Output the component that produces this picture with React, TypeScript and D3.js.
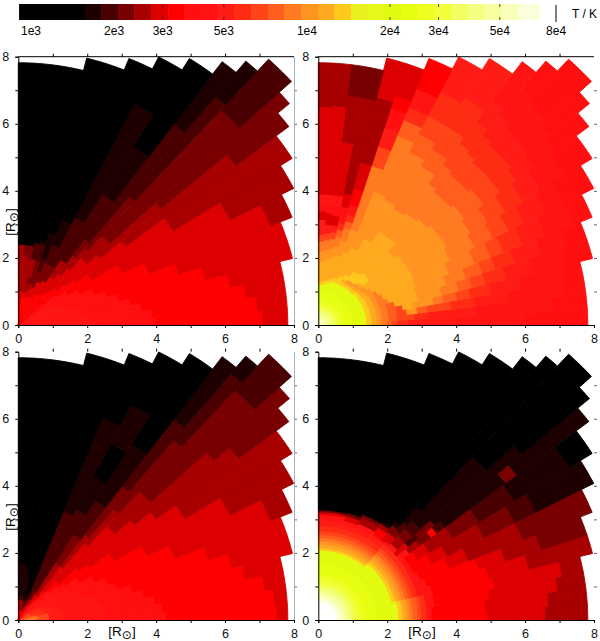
import * as React from 'react'
import * as d3 from 'd3'

// colour bar
const LEVEL_COLORS = ['#000000', '#1e0000', '#4a0000', '#780000', '#a80000', '#dd0000', '#ff0000', '#ff0f0f', '#ff1414', '#ff1c14', '#ff2c14', '#ff4418', '#ff5e1c', '#ff7a20', '#ff9420', '#ffaa1e', '#ffc81c', '#e8f01e', '#e4f81a', '#e2fa10', '#e6ff10', '#ecff20', '#f0ff3a', '#f2ff60', '#f4ff80', '#f6ff9c', '#f8ffb8', '#fcffdc', '#ffffff']
const LEVEL_TEMPS = [909, 1576, 1802, 2076, 2374, 2734, 3152, 3601, 4150, 4782, 5464, 6298, 7257, 8295, 9561, 11016, 12588, 14504, 16720, 19100, 22010, 25360, 28990, 33410, 38510, 44020, 50700, 58420, 70160]
const TEMP_TICKS = [1000, 2000, 3000, 5000, 10000, 20000, 30000, 50000, 80000]
const TEMP_LABELS = ['1e3', '2e3', '3e3', '5e3', '1e4', '2e4', '3e4', '5e4', '8e4']

// angular blocks of the grid, degrees from the x axis, with the outer radius of each
const THETA_EDGES = [0, 3.5, 7, 10.5, 14, 18, 22, 27, 32, 37, 40, 42.5, 47.5, 50, 53, 58, 63, 68, 72, 76, 79.5, 83, 86.5, 90]
const RIM_RADIUS = [7.82, 7.82, 7.82, 7.82, 8.2, 8.2, 8.57, 8.97, 9.37, 9.83, 10.27, 10.75, 10.27, 9.83, 9.37, 8.97, 8.57, 8.2, 8.2, 7.82, 7.82, 7.82, 7.82]

const AXIS_TICKS = [0, 1, 2, 3, 4, 5, 6, 7, 8]

// each row: radius where a level ends, level, radius, level ... from the centre out
const panelTopLeft = [
  [2.2, 8, 4, 7, 7.1, 6, 99, 5],
  [2.1, 8, 3.9, 7, 6.95, 6, 99, 5],
  [2, 8, 3.6, 7, 6.65, 6, 99, 5],
  [1.9, 8, 3.3, 7, 6.25, 6, 99, 5],
  [1.7, 8, 3, 7, 5.6, 6, 99, 5],
  [1.5, 8, 2.7, 7, 4.9, 6, 99, 5],
  [1.3, 8, 2.4, 7, 4.1, 6, 7.9, 5, 99, 4],
  [1.1, 8, 2, 7, 3.4, 6, 6.9, 5, 99, 4],
  [1.7, 7, 2.5, 6, 5.3, 5, 99, 4],
  [1.4, 7, 2.1, 6, 3.9, 5, 7.9, 4, 99, 3],
  [1.8, 6, 3.1, 5, 5.4, 4, 99, 3],
  [1.5, 6, 2.7, 5, 3.6, 4, 8.7, 3, 99, 2],
  [1.3, 6, 2.2, 5, 3, 4, 5, 3, 8.9, 2, 99, 1],
  [1.2, 6, 1.9, 5, 2.6, 4, 3.2, 3, 7.5, 2, 99, 1],
  [1.1, 6, 1.7, 5, 2.3, 4, 4.6, 2, 6.3, 1, 99, 0],
  [1.05, 6, 1.5, 5, 2, 3, 3.6, 2, 7.4, 1, 99, 0],
  [0.9, 6, 1.4, 5, 2, 3, 2.6, 2, 3.4, 1, 99, 0],
  [0.9, 6, 1.2, 5, 1.7, 3, 2.1, 2, 2.9, 1, 99, 0],
  [0.85, 6, 1.1, 5, 1.3, 4, 2, 3, 2.5, 2, 2.6, 1, 99, 0],
  [0.85, 6, 1, 5, 1.25, 4, 1.45, 3, 2, 4, 2.5, 2, 99, 0],
  [0.85, 6, 1, 5, 2, 4, 2.4, 3, 99, 0],
  [0.8, 6, 1, 5, 2.1, 4, 2.4, 3, 99, 0],
  [0.8, 6, 1, 5, 2.4, 4, 99, 0]
]

const coreTopRight = [0.2, 26, 0.3, 25, 0.4, 24, 0.5, 23, 0.6, 22, 0.75, 21, 1, 20]
const panelTopRight = [
  [...coreTopRight, 1.4, 19, 1.55, 16, 1.7, 15, 1.85, 14, 2, 13, 2.15, 12, 2.3, 11, 2.6, 10, 4, 9, 6, 8, 99, 7],
  [...coreTopRight, 1.4, 19, 1.55, 16, 1.7, 15, 1.85, 14, 2.05, 13, 2.3, 12, 2.8, 11, 3.2, 10, 4.6, 9, 6.8, 8, 99, 7],
  [...coreTopRight, 1.4, 19, 1.55, 16, 1.7, 15, 1.85, 14, 2.05, 13, 2.3, 12, 2.6, 11, 2.9, 14, 3.2, 12, 3.9, 11, 4.6, 10, 5.6, 9, 7.2, 8, 99, 7],
  [...coreTopRight, 1.4, 19, 1.55, 16, 1.7, 15, 1.85, 14, 2.05, 13, 2.3, 12, 2.5, 11, 2.8, 15, 3.4, 14, 3.7, 13, 4.1, 12, 4.5, 11, 5.1, 10, 6, 9, 7.3, 8, 99, 7],
  [...coreTopRight, 1.4, 19, 1.55, 16, 1.7, 15, 1.85, 14, 2.05, 13, 2.3, 12, 3, 15, 3.7, 14, 4.2, 13, 4.6, 12, 5, 11, 5.6, 10, 6.4, 9, 7.4, 8, 99, 7],
  [...coreTopRight, 1.4, 19, 1.55, 16, 1.7, 15, 1.85, 14, 2.15, 13, 3, 15, 3.9, 14, 4.5, 13, 5, 12, 5.4, 11, 6, 10, 6.8, 9, 7.6, 8, 99, 7],
  [...coreTopRight, 1.4, 19, 1.55, 16, 1.7, 15, 1.85, 14, 2.05, 13, 3.05, 15, 4.1, 14, 4.9, 13, 5.4, 12, 5.8, 11, 6.4, 10, 7.1, 9, 8, 8, 99, 7],
  [...coreTopRight, 1.4, 19, 1.55, 16, 1.7, 15, 1.85, 14, 1.95, 13, 3.1, 15, 4.3, 14, 5.1, 13, 5.7, 12, 6.2, 11, 6.7, 10, 7.4, 9, 8, 8, 99, 7],
  [...coreTopRight, 1.4, 19, 1.5, 16, 1.65, 15, 1.85, 14, 3.1, 15, 4.4, 14, 5.2, 13, 5.8, 12, 6.4, 11, 7, 10, 7.6, 9, 8.4, 8, 99, 7],
  [...coreTopRight, 1.4, 19, 1.5, 16, 1.6, 15, 1.75, 14, 3.1, 15, 4.4, 14, 5.3, 13, 6, 12, 6.6, 11, 7.2, 10, 7.8, 9, 8.6, 8, 99, 7],
  [...coreTopRight, 1.4, 19, 1.5, 16, 1.6, 15, 1.7, 14, 3.1, 15, 4.4, 14, 5.3, 13, 6, 12, 6.6, 11, 7.3, 10, 7.9, 9, 8.8, 8, 99, 7],
  [...coreTopRight, 1.35, 19, 1.45, 16, 1.55, 15, 1.65, 14, 1.75, 15, 2, 16, 3, 15, 4.3, 14, 5.2, 13, 5.9, 12, 6.6, 11, 7.3, 10, 8, 9, 9, 8, 99, 7],
  [...coreTopRight, 1.35, 19, 1.45, 16, 1.55, 15, 1.65, 14, 2.05, 16, 3.3, 15, 4.2, 14, 5.2, 13, 5.9, 12, 6.7, 11, 7.4, 10, 8.2, 9, 9.2, 8, 99, 7],
  [...coreTopRight, 1.35, 19, 1.45, 16, 1.5, 15, 1.6, 14, 1.95, 16, 3.3, 15, 4.2, 14, 5.3, 13, 6, 12, 6.8, 11, 7.6, 10, 8.4, 9, 99, 8],
  [...coreTopRight, 1.35, 19, 1.45, 16, 1.5, 15, 1.6, 14, 1.9, 16, 3.3, 15, 4.1, 14, 5.6, 13, 6.2, 12, 7, 11, 8, 10, 99, 9],
  [...coreTopRight, 1.35, 19, 1.45, 16, 1.55, 15, 1.7, 16, 2.9, 15, 4.2, 14, 5.8, 13, 6.4, 12, 7, 11, 7.8, 10, 99, 9],
  [...coreTopRight, 1.35, 19, 1.6, 16, 2.5, 15, 4.3, 14, 6.1, 13, 6.6, 12, 7, 10, 7.6, 8, 99, 6],
  [...coreTopRight, 1.35, 19, 1.5, 16, 2.3, 15, 3, 14, 5, 13, 5.6, 11, 6.2, 9, 6.8, 7, 7.2, 6, 99, 5],
  [...coreTopRight, 1.35, 19, 1.45, 16, 2.15, 15, 2.6, 14, 3, 13, 3.2, 12, 3.4, 10, 3.7, 8, 4.2, 6, 5, 5, 7, 4, 99, 5],
  [...coreTopRight, 1.3, 19, 1.4, 16, 2.1, 15, 2.4, 14, 2.7, 13, 2.9, 12, 3.1, 10, 3.3, 8, 3.6, 7, 4, 5, 6.9, 4, 99, 3],
  [...coreTopRight, 1.25, 19, 1.35, 16, 2, 15, 2.3, 14, 2.6, 13, 2.8, 11, 3, 9, 3.3, 5, 3.6, 7, 3.9, 8, 5.5, 5, 6.9, 4, 99, 3],
  [...coreTopRight, 1.2, 19, 1.32, 16, 1.95, 15, 2.25, 14, 2.55, 13, 2.75, 11, 3, 9, 3.35, 5, 3.6, 7, 3.9, 8, 6.55, 5, 99, 4],
  [...coreTopRight, 1.2, 19, 1.3, 16, 1.9, 15, 2.2, 14, 2.5, 13, 2.7, 11, 3.15, 9, 3.4, 5, 3.6, 7, 3.9, 8, 6.5, 5, 99, 4]
]

const panelBottomLeft = [
  [0.2, 11, 0.5, 13, 0.9, 11, 1.3, 9, 2.5, 8, 4.3, 7, 7.5, 6, 99, 5],
  [0.25, 12, 0.6, 13, 0.9, 11, 1.3, 9, 2.5, 8, 4.2, 7, 7.45, 6, 99, 5],
  [0.3, 12, 0.6, 13, 0.9, 11, 1.3, 9, 2.5, 8, 4, 7, 7.2, 6, 99, 5],
  [0.55, 12, 0.9, 11, 1.3, 9, 2.4, 8, 3.7, 7, 6.7, 6, 99, 5],
  [0.5, 12, 0.8, 10, 1.2, 9, 2.3, 8, 3.4, 7, 6.4, 6, 99, 5],
  [0.45, 11, 0.8, 10, 1.1, 9, 2.1, 8, 3, 7, 5.8, 6, 99, 5],
  [0.4, 11, 0.7, 10, 1, 9, 1.9, 8, 2.8, 7, 4.9, 6, 7.9, 5, 99, 4],
  [0.4, 11, 0.7, 10, 0.9, 9, 1.7, 8, 2.5, 7, 4.2, 6, 6.9, 5, 99, 4],
  [0.35, 10, 0.6, 9, 1.4, 8, 2.1, 7, 3.3, 6, 5.7, 5, 99, 4],
  [0.3, 10, 0.5, 9, 1.2, 8, 1.7, 7, 2.6, 6, 5, 5, 8, 4, 99, 3],
  [0.3, 9, 0.9, 8, 1.5, 7, 2.3, 6, 4.4, 5, 7.4, 4, 99, 3],
  [0.5, 8, 1.2, 7, 1.6, 6, 3.8, 5, 5.2, 4, 9.3, 3, 99, 2],
  [0.4, 8, 0.8, 7, 1.1, 6, 3, 5, 4.3, 4, 7, 3, 9.6, 2, 99, 1],
  [0.3, 8, 0.6, 7, 0.8, 6, 2, 5, 3.2, 4, 5, 3, 7.5, 2, 99, 1],
  [0.3, 7, 0.5, 6, 0.9, 5, 2, 4, 3, 3, 4.2, 2, 6.2, 1, 99, 0],
  [0.25, 6, 0.5, 5, 0.7, 4, 1, 3, 3.7, 2, 4.8, 1, 5.9, 0, 7.2, 1, 99, 0],
  [0.3, 5, 0.5, 4, 0.7, 3, 1, 2, 3.5, 2, 6.5, 1, 99, 0],
  [0.3, 5, 0.45, 4, 0.65, 2, 0.85, 1, 99, 0],
  [0.3, 5, 0.6, 3, 0.8, 1, 99, 0],
  [0.3, 6, 0.6, 3, 0.75, 1, 1.3, 1, 99, 0],
  [0.3, 6, 0.6, 4, 0.75, 2, 1.6, 1, 99, 0],
  [0.3, 6, 0.6, 4, 0.75, 2, 1.7, 1, 99, 0],
  [0.3, 6, 0.6, 4, 0.7, 2, 1.7, 1, 99, 0]
]

const coreBottomRight = [0.55, 28, 0.65, 27, 0.75, 26, 0.85, 25, 0.95, 24, 1.05, 23, 1.2, 22, 1.35, 21, 1.7, 20]
const bandsLow = [2.33, 19, 2.45, 16, 2.55, 15, 2.65, 14, 2.75, 13, 2.9, 12, 3, 11, 3.15, 10]
const bandsMid = [2.2, 19, 2.3, 16, 2.4, 15, 2.5, 14, 2.6, 13, 2.7, 12, 2.8, 11, 2.95, 10]
const bandsHigh = [2.08, 19, 2.15, 16, 2.25, 15, 2.35, 14, 2.45, 13, 2.55, 12, 2.65, 11, 2.8, 10, 2.95, 9]
const panelBottomRight = [
  [...coreBottomRight, ...bandsLow, 3.3, 8, 4.9, 6, 6.6, 5, 99, 4],
  [...coreBottomRight, ...bandsLow, 3.3, 8, 4.85, 6, 6.7, 5, 99, 4],
  [...coreBottomRight, ...bandsLow, 3.4, 8, 5, 6, 7, 5, 99, 4],
  [...coreBottomRight, ...bandsLow, 3.4, 8, 5.2, 6, 7.2, 5, 99, 4],
  [...coreBottomRight, ...bandsMid, 3.4, 8, 5.1, 6, 6.3, 5, 99, 4],
  [...coreBottomRight, ...bandsMid, 3.3, 8, 4.9, 6, 5.7, 5, 6.8, 4, 99, 3],
  [...coreBottomRight, ...bandsMid, 3.2, 8, 4.1, 6, 4.7, 5, 6.4, 4, 99, 3],
  [...coreBottomRight, ...bandsMid, 3.1, 8, 3.7, 6, 4.2, 5, 5.4, 4, 6.4, 3, 7.1, 2, 8, 1, 99, 1],
  [...coreBottomRight, ...bandsMid, 3.1, 8, 3.4, 6, 3.8, 5, 4.6, 4, 5.5, 3, 6.7, 2, 8.6, 1, 99, 0],
  [...coreBottomRight, ...bandsMid, 3.3, 8, 3.7, 4, 4.1, 3, 4.3, 6, 4.6, 2, 6.8, 1, 7.2, 3, 99, 1],
  [...coreBottomRight, ...bandsMid, 3.4, 5, 3.8, 2, 4.4, 3, 7.7, 1, 99, 0],
  [...coreBottomRight, ...bandsMid, 3.1, 8, 3.4, 4, 3.7, 3, 4, 2, 6.6, 1, 99, 0],
  [...coreBottomRight, ...bandsMid, 3.05, 8, 3.3, 5, 3.5, 3, 3.8, 2, 4.4, 1, 99, 0],
  [...coreBottomRight, ...bandsHigh, 3, 8, 3.3, 5, 3.55, 3, 3.7, 1, 99, 0],
  [...coreBottomRight, ...bandsHigh, 3, 8, 3.25, 6, 3.4, 4, 3.5, 1, 99, 0],
  [...coreBottomRight, ...bandsHigh, 3.1, 8, 3.3, 4, 3.4, 3, 99, 0],
  [...coreBottomRight, ...bandsHigh, 3.1, 8, 3.3, 4, 3.4, 3, 99, 0],
  [...coreBottomRight, ...bandsHigh, 3.05, 8, 3.2, 5, 3.3, 3, 99, 0],
  [...coreBottomRight, ...bandsHigh, 3.05, 8, 3.2, 5, 3.3, 3, 99, 0],
  [...coreBottomRight, ...bandsHigh, 3.05, 8, 3.15, 7, 3.22, 5, 3.28, 3, 99, 0],
  [...coreBottomRight, ...bandsHigh, 3.05, 8, 3.15, 7, 3.22, 5, 3.28, 3, 99, 0],
  [...coreBottomRight, ...bandsHigh, 3.05, 8, 3.15, 7, 3.22, 5, 3.28, 3, 99, 0],
  [...coreBottomRight, ...bandsHigh, 3.05, 8, 3.15, 7, 3.22, 5, 3.28, 3, 99, 0]
]

const FONT = '"Liberation Sans", Arial, sans-serif'

function ringPath(
  x: d3.ScaleLinear<number, number>,
  y: d3.ScaleLinear<number, number>,
  thetaFrom: number,
  thetaTo: number,
  r0: number,
  r1: number
) {
  const angles = d3.range(thetaFrom, thetaTo, 0.5).concat(thetaTo)
  const at = (r: number, t: number): [number, number] => [
    x(r * Math.cos((t * Math.PI) / 180)),
    y(r * Math.sin((t * Math.PI) / 180))
  ]
  const outer = angles.map(t => at(r1, t))
  const inner = angles
    .slice()
    .reverse()
    .map(t => at(r0, t))
  return d3.line()([...outer, ...inner]) + 'Z'
}

function drawPanel(
  root: d3.Selection<SVGGElement, unknown, null, undefined>,
  rows: number[][],
  left: number,
  top: number,
  showTopLine: boolean,
  showRightLine: boolean
) {
  const x = d3.scaleLinear().domain([0, 8]).range([left, left + 275.7])
  const y = d3.scaleLinear().domain([0, 8]).range([top + 268.3, top])
  const g = root.append('g')

  rows.forEach((row, i) => {
    const runs: { r0: number; r1: number; level: number }[] = []
    let from = 0
    for (let k = 0; k < row.length; k += 2) {
      const r1 = Math.min(row[k], RIM_RADIUS[i])
      if (r1 > from) runs.push({ r0: from, r1, level: row[k + 1] })
      from = r1
    }
    g.append('g')
      .selectAll('path')
      .data(runs)
      .join('path')
      .attr('d', d => ringPath(x, y, THETA_EDGES[i], THETA_EDGES[i + 1], d.r0, d.r1))
      .attr('fill', d => LEVEL_COLORS[d.level])
      .attr('stroke', d => LEVEL_COLORS[d.level])
      .attr('stroke-width', 0.9)
  })

  const even = (d: d3.NumberValue) => (+d % 2 === 0 ? String(d) : '')
  const bottom = g
    .append('g')
    .attr('transform', `translate(0,${y(0)})`)
    .call(d3.axisBottom(x).tickValues(AXIS_TICKS).tickSize(3).tickPadding(6).tickFormat(even))
  const leftAxis = g
    .append('g')
    .attr('transform', `translate(${x(0)},0)`)
    .call(d3.axisLeft(y).tickValues(AXIS_TICKS).tickSize(3).tickPadding(6).tickFormat(even))
  for (const a of [bottom, leftAxis]) {
    a.attr('font-family', FONT).attr('font-size', 12.5)
    a.selectAll('.tick text').attr('fill', '#111')
  }
  const topAxis = g
    .append('g')
    .attr('transform', `translate(0,${y(8)})`)
    .call(d3.axisTop(x).tickValues(AXIS_TICKS.slice(1, -1)).tickSize(3).tickFormat(() => ''))
  topAxis.select('.domain').remove()
  if (showTopLine) {
    g.append('line')
      .attr('x1', x(0))
      .attr('x2', x(8))
      .attr('y1', y(8))
      .attr('y2', y(8))
      .attr('stroke', '#000')
  }
  const rightAxis = g
    .append('g')
    .attr('transform', `translate(${x(8)},0)`)
    .call(d3.axisRight(y).tickValues(AXIS_TICKS.slice(1, -1)).tickSize(3).tickFormat(() => ''))
  rightAxis.select('.domain').remove()
  rightAxis.selectAll('.tick line').attr('stroke', '#667')
  if (showRightLine) {
    g.append('line')
      .attr('x1', x(8) + 0.5)
      .attr('x2', x(8) + 0.5)
      .attr('y1', y(8))
      .attr('y2', y(0))
      .attr('stroke', '#aab2ba')
  }
}

function drawColorBar(root: d3.Selection<SVGGElement, unknown, null, undefined>) {
  const barX = d3.scaleLog().domain([1000, 20000]).range([30.5, 389.5])
  const cells = LEVEL_COLORS.slice(0, LEVEL_TEMPS.length - 1)
  const g = root.append('g')
  g.selectAll('rect')
    .data(cells)
    .join('rect')
    .attr('x', (d, i) => barX(LEVEL_TEMPS[i]))
    .attr('width', (d, i) => barX(LEVEL_TEMPS[i + 1]) - barX(LEVEL_TEMPS[i]) + 0.4)
    .attr('y', 4)
    .attr('height', 16)
    .attr('fill', d => d)
  const bottom = g
    .append('g')
    .attr('transform', 'translate(0,20)')
    .call(
      d3
        .axisBottom(barX)
        .tickValues(TEMP_TICKS)
        .tickSize(-3)
        .tickPadding(6)
        .tickFormat((d, i) => TEMP_LABELS[i])
    )
  bottom.attr('font-family', FONT).attr('font-size', 12)
  bottom.select('.domain').remove()
  const top = g
    .append('g')
    .attr('transform', 'translate(0,4)')
    .call(
      d3
        .axisTop(barX)
        .tickValues(TEMP_TICKS)
        .tickSize(-3)
        .tickFormat(() => '')
    )
  top.select('.domain').remove()
  for (const a of [bottom, top]) {
    a.selectAll<SVGLineElement, number>('.tick line')
      .attr('stroke', '#222')
      .attr('opacity', d => (d === 1000 || d === 10000 || d === 80000 ? 0 : 0.8))
  }
  g.append('line').attr('x1', 556).attr('x2', 556).attr('y1', 5).attr('y2', 22).attr('stroke', '#000')
  g.append('text')
    .attr('x', 572)
    .attr('y', 17.5)
    .attr('font-family', FONT)
    .attr('font-size', 12)
    .text('T / K')
}

function radiusLabel(
  root: d3.Selection<SVGGElement, unknown, null, undefined>,
  transform: string
) {
  const t = root
    .append('text')
    .attr('transform', transform)
    .attr('text-anchor', 'middle')
    .attr('font-family', FONT)
    .attr('font-size', 13.5)
  t.append('tspan').text('[R')
  t.append('tspan').attr('dy', 2.5).attr('font-family', '"DejaVu Sans"').attr('font-size', 12).text('⊙')
  t.append('tspan').attr('dy', -2.5).text(']')
}

export default function App() {
  const ref = React.useRef<SVGGElement>(null)
  React.useEffect(() => {
    const root = d3.select(ref.current as SVGGElement)
    root.selectAll('*').remove()
    drawColorBar(root)
    drawPanel(root, panelTopLeft, 18.3, 56.7, true, true)
    drawPanel(root, panelTopRight, 318.3, 56.7, true, false)
    drawPanel(root, panelBottomLeft, 18.3, 351.7, false, true)
    drawPanel(root, panelBottomRight, 318.3, 351.7, false, false)
    radiusLabel(root, 'translate(15,222) rotate(-90)')
    radiusLabel(root, 'translate(15,517) rotate(-90)')
    radiusLabel(root, 'translate(122,636)')
    radiusLabel(root, 'translate(422,636)')
  }, [])
  return (
    <svg
      width={600}
      height={641}
      style={{ position: 'absolute', left: 0, top: 0, background: '#fff' }}
    >
      <g ref={ref} />
    </svg>
  )
}
